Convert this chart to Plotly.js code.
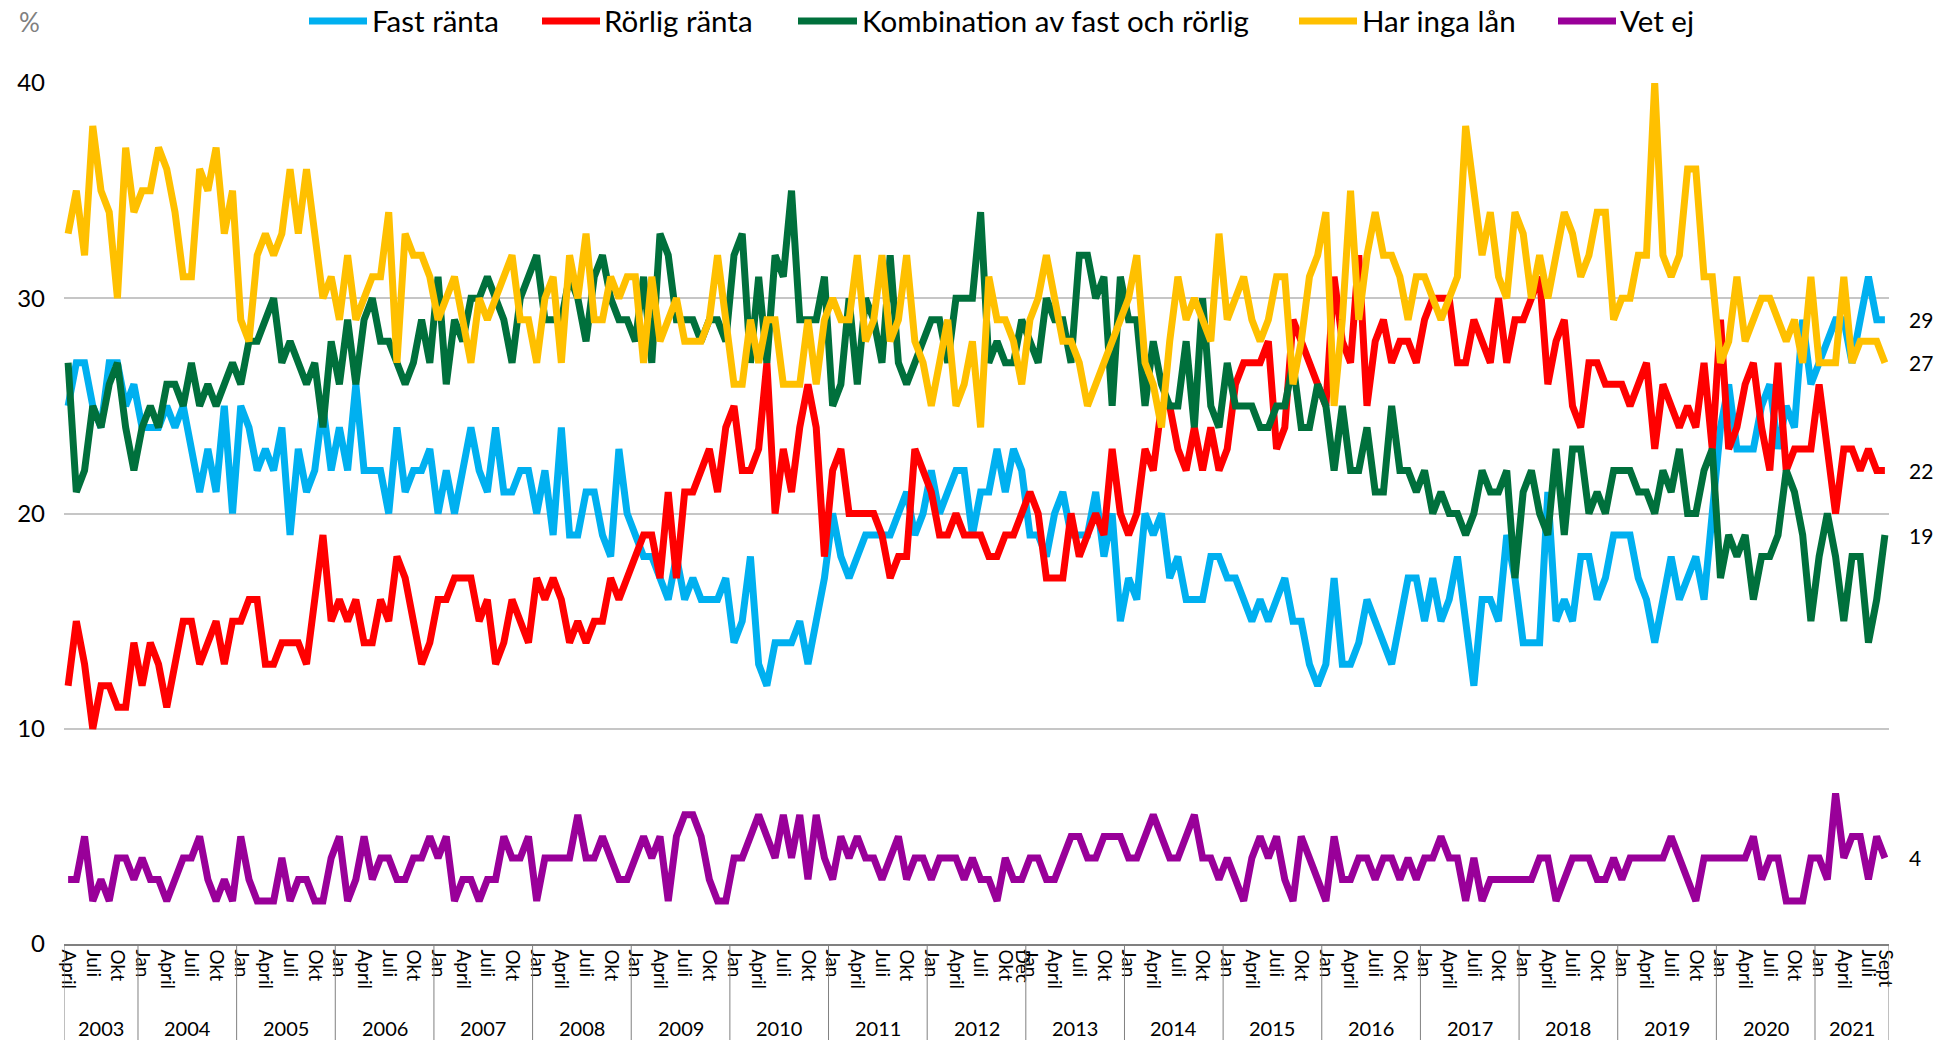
<!DOCTYPE html>
<html>
<head>
<meta charset="utf-8">
<script src="https://cdn.plot.ly/plotly-3.0.1.min.js"></script>
<style>html,body{margin:0;padding:0;background:#fff;}#chart{width:1940px;height:1040px;}</style>
</head>
<body>
<div id="chart"></div>
<script>
// ---- Data (monthly, April 2003 - September 2021) ----
const years = ['2003','2004','2005','2006','2007','2008','2009','2010','2011','2012','2013','2014','2015','2016','2017','2018','2019','2020','2021'];
const firstMonth = 4;          // April 2003
const lastMonth = 9;           // September 2021
const monthTickLabels = {1:'Jan', 4:'April', 7:'Juli', 10:'Okt'};
const extraTickLabels = [{year:'2012', month:12, label:'Dec'}, {year:'2021', month:9, label:'Sept'}];

const seriesNames = ['Fast ränta','Rörlig ränta','Kombination av fast och rörlig','Har inga lån','Vet ej'];
const seriesColors = ['#00B0F0','#FF0000','#00703C','#FFC000','#990099'];

const fastRanta = [
25,27,27,25,24,27,27,25,26,24, 24,24,25,24,25,23,21,23,21,25, 20,25,24,22,23,22,24,19,23,21,
22,25,22,24,22,26,22,22,22,20, 24,21,22,22,23,20,22,20,22,24, 22,21,24,21,21,22,22,20,22,19,
24,19,19,21,21,19,18,23,20,19, 18,18,17,16,18,16,17,16,16,16, 17,14,15,18,13,12,14,14,14,15,
13,15,17,20,18,17,18,19,19,19, 19,20,21,19,20,22,20,21,22,22, 19,21,21,23,21,23,22,19,19,18,
20,21,19,19,19,21,18,20,15,17, 16,20,19,20,17,18,16,16,16,18, 18,17,17,16,15,16,15,16,17,15,
15,13,12,13,17,13,13,14,16,15, 14,13,15,17,17,15,17,15,16,18, 15,12,16,16,15,19,17,14,14,14,
21,15,16,15,18,18,16,17,19,19, 19,17,16,14,16,18,16,17,18,16, 20,24,26,23,23,23,25,26,23,25,
24,29,26,27,28,29,29,27,29,31,29,29];

const rorligRanta = [
12,15,13,10,12,12,11,11,14,12, 14,13,11,13,15,15,13,14,15,13, 15,15,16,16,13,13,14,14,14,13,
16,19,15,16,15,16,14,14,16,15, 18,17,15,13,14,16,16,17,17,17, 15,16,13,14,16,15,14,17,16,17,
16,14,15,14,15,15,17,16,17,18, 19,19,17,21,17,21,21,22,23,21, 24,25,22,22,23,27,20,23,21,24,
26,24,18,22,23,20,20,20,20,19, 17,18,18,23,22,21,19,19,20,19, 19,19,18,18,19,19,20,21,20,17,
17,17,20,18,19,20,19,23,20,19, 20,23,22,25,25,23,22,24,22,24, 22,23,26,27,27,27,28,23,24,29,
28,27,26,25,31,28,27,32,25,28, 29,27,28,28,27,29,30,30,30,27, 27,29,28,27,30,27,29,29,30,31,
26,28,29,25,24,27,27,26,26,26, 25,26,27,23,26,25,24,25,24,27, 23,29,23,24,26,27,24,22,27,22,
23,23,23,26,23,20,23,23,22,23,22,22];

const kombination = [
27,21,22,25,24,26,27,24,22,24, 25,24,26,26,25,27,25,26,25,26, 27,26,28,28,29,30,27,28,27,26,
27,24,28,26,29,26,29,30,28,28, 27,26,27,29,27,31,26,29,28,30, 30,31,30,29,27,30,31,32,29,29,
29,31,30,28,31,32,30,29,29,28, 31,27,33,32,29,29,29,28,29,29, 28,32,33,27,31,27,32,31,35,29,
29,29,31,25,26,30,26,30,29,27, 32,27,26,27,28,29,29,27,30,30, 30,34,27,28,27,27,29,28,27,30,
29,29,27,32,32,30,31,25,31,29, 29,25,28,26,25,25,28,24,30,25, 24,27,25,25,25,24,24,25,25,27,
24,24,26,25,22,25,22,22,24,21, 21,25,22,22,21,22,20,21,20,20, 19,20,22,21,21,22,17,21,22,20,
19,23,19,23,23,20,21,20,22,22, 22,21,21,20,22,21,23,20,20,22, 23,17,19,18,19,16,18,18,19,22,
21,19,15,18,20,18,15,18,18,14,16,19];

const harIngaLan = [
33,35,32,38,35,34,30,37,34,35, 35,37,36,34,31,31,36,35,37,33, 35,29,28,32,33,32,33,36,33,36,
33,30,31,29,32,29,30,31,31,34, 27,33,32,32,31,29,30,31,29,27, 30,29,30,31,32,29,29,27,30,31,
27,32,30,33,29,29,31,30,31,31, 27,31,28,29,30,28,28,28,29,32, 29,26,26,29,27,29,29,26,26,26,
29,26,29,30,29,29,32,28,29,32, 28,29,32,28,27,25,27,29,25,26, 28,24,31,29,29,28,26,29,30,32,
30,28,28,27,25,26,27,28,29,30, 32,27,26,24,28,31,29,30,29,28, 33,29,30,31,29,28,29,31,31,26,
28,31,32,34,25,29,35,29,32,34, 32,32,31,29,31,31,30,29,30,31, 38,35,32,34,31,30,34,33,30,32,
30,32,34,33,31,32,34,34,29,30, 30,32,32,40,32,31,32,36,36,31, 31,27,28,31,28,29,30,30,29,28,
29,27,31,27,27,27,31,27,28,28,28,27];

const vetEj = [
3,3,5,2,3,2,4,4,3,4, 3,3,2,3,4,4,5,3,2,3, 2,5,3,2,2,2,4,2,3,3,
2,2,4,5,2,3,5,3,4,4, 3,3,4,4,5,4,5,2,3,3, 2,3,3,5,4,4,5,2,4,4,
4,4,6,4,4,5,4,3,3,4, 5,4,5,2,5,6,6,5,3,2, 2,4,4,5,6,5,4,6,4,6,
3,6,4,3,5,4,5,4,4,3, 4,5,3,4,4,3,4,4,4,3, 4,3,3,2,4,3,3,4,4,3,
3,4,5,5,4,4,5,5,5,4, 4,5,6,5,4,4,5,6,4,4, 3,4,3,2,4,5,4,5,3,2,
5,4,3,2,5,3,3,4,4,3, 4,4,3,4,3,4,4,5,4,4, 2,4,2,3,3,3,3,3,3,4,
4,2,3,4,4,4,3,3,4,3, 4,4,4,4,4,5,4,3,2,4, 4,4,4,4,4,5,3,4,4,2,
2,2,4,4,3,7,4,5,5,3,5,4];

const allSeries = [fastRanta, rorligRanta, kombination, harIngaLan, vetEj];

// ---- Build month index / categories ----
const xIdx = [], catYear = [], catMonth = [];
let n = 0;
years.forEach((y, yi) => {
  const m0 = yi === 0 ? firstMonth : 1;
  const m1 = yi === years.length - 1 ? lastMonth : 12;
  for (let m = m0; m <= m1; m++) { xIdx.push(n); catYear.push(y); catMonth.push(m); n++; }
});

const tickvals = [], ticktext = [];
for (let i = 0; i < n; i++) {
  let lab = monthTickLabels[catMonth[i]];
  extraTickLabels.forEach(e => { if (e.year === catYear[i] && e.month === catMonth[i]) lab = e.label; });
  if (lab) { tickvals.push(xIdx[i]); ticktext.push(lab); }
}

// ---- Layout geometry ----
const W = 1940, H = 1040;
const M = {l: 64, r: 51, t: 83, b: 96};
const plotW = W - M.l - M.r, plotH = H - M.t - M.b;
const pxX = px => (px - M.l) / plotW;
const pxY = py => (H - M.b - py) / plotH;
const FONT = 'Lato, "Open Sans", "DejaVu Sans", sans-serif';

const traces = allSeries.map((s, k) => ({
  type: 'scatter', mode: 'lines', x: xIdx, y: s, name: seriesNames[k],
  line: {color: seriesColors[k], width: 7}, hoverinfo: 'x+y+name'
}));

const shapes = [], annotations = [];

// Year separators and year labels
years.forEach(y => {
  const idx = xIdx.filter((_, i) => catYear[i] === y);
  const a = idx[0] - 0.5, b = idx[idx.length - 1] + 0.5;
  shapes.push({type: 'line', xref: 'x', yref: 'paper', x0: a, x1: a, y0: 0, y1: pxY(H), line: {color: '#808080', width: 1}});
  annotations.push({xref: 'x', yref: 'paper', x: (a + b) / 2, y: pxY(1028), text: y, showarrow: false,
    xanchor: 'center', yanchor: 'middle', font: {family: FONT, size: 20, color: '#000'}});
  if (y === years[years.length - 1]) {
    shapes.push({type: 'line', xref: 'x', yref: 'paper', x0: b, x1: b, y0: 0, y1: pxY(H), line: {color: '#808080', width: 1}});
  }
});

// End-value labels
allSeries.forEach((s, k) => {
  annotations.push({xref: 'x', yref: 'y', x: xIdx[n - 1], y: s[n - 1], text: String(s[n - 1]), showarrow: false,
    xanchor: 'left', yanchor: 'middle', xshift: 22, font: {family: FONT, size: 21, color: '#000'}});
});

// Custom legend across the top
const legendPos = [[309, 367, 370], [542, 600, 602], [798, 857, 860], [1299, 1357, 1360], [1558, 1616, 1618]];
legendPos.forEach((p, k) => {
  shapes.push({type: 'line', xref: 'paper', yref: 'paper', x0: pxX(p[0]), x1: pxX(p[1]), y0: pxY(21), y1: pxY(21),
    line: {color: seriesColors[k], width: 7}});
  annotations.push({xref: 'paper', yref: 'paper', x: pxX(p[2]), y: pxY(21), text: seriesNames[k], showarrow: false,
    xanchor: 'left', yanchor: 'middle', font: {family: FONT, size: 29.5, color: '#000'}});
});

// "%" unit label
annotations.push({xref: 'paper', yref: 'paper', x: pxX(29), y: pxY(22), text: '%', showarrow: false,
  xanchor: 'center', yanchor: 'middle', font: {family: FONT, size: 26, color: '#808080'}});

const layout = {
  width: W, height: H, margin: {l: M.l, r: M.r, t: M.t, b: M.b, pad: 0},
  paper_bgcolor: '#fff', plot_bgcolor: '#fff', showlegend: false,
  font: {family: FONT, color: '#000'},
  xaxis: {range: [-0.5, n - 0.5], tickvals: tickvals, ticktext: ticktext, tickangle: 90,
    showline: true, linecolor: '#808080', linewidth: 1.5, showgrid: false, zeroline: false, ticks: '',
    tickfont: {family: FONT, size: 19, color: '#000'}, fixedrange: true},
  yaxis: {range: [0, 40], tickvals: [0, 10, 20, 30, 40], showgrid: true, gridcolor: '#c6c6c6', gridwidth: 2,
    zeroline: false, showline: false, ticks: '', ticklabelstandoff: 18,
    tickfont: {family: FONT, size: 24, color: '#000'}, fixedrange: true},
  shapes: shapes, annotations: annotations
};

Plotly.newPlot('chart', traces, layout, {displayModeBar: false, responsive: false});
</script>
</body>
</html>
